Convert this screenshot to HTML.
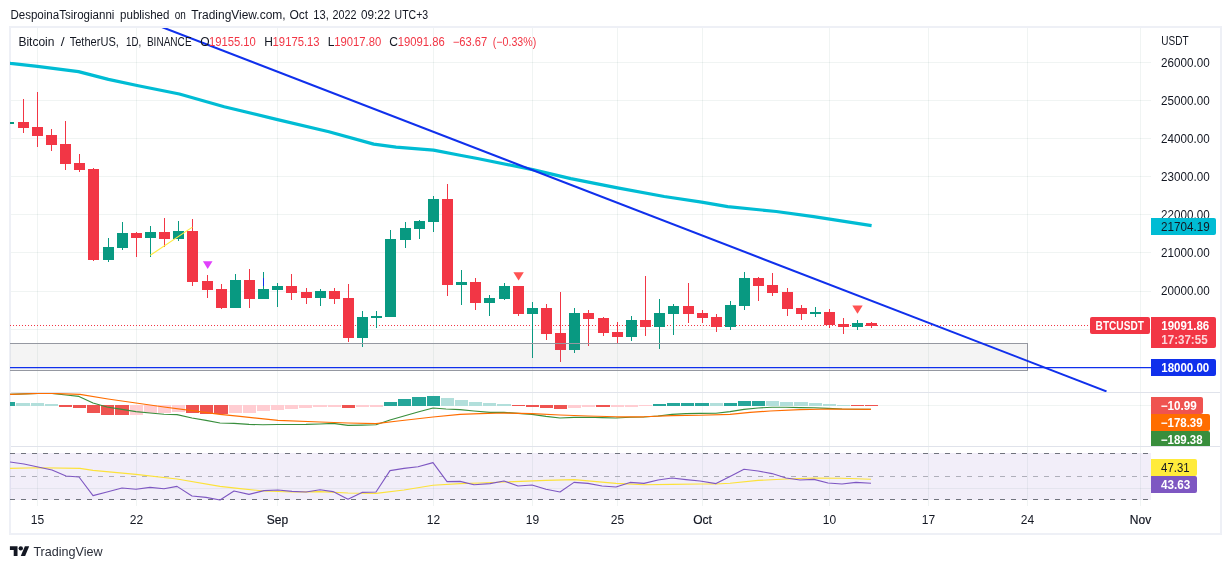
<!DOCTYPE html>
<html lang="en"><head><meta charset="utf-8"><title>BTCUSDT chart</title>
<style>html,body{margin:0;padding:0;background:#fff;}svg{display:block;will-change:transform;}</style></head>
<body>
<svg width="1231" height="569" viewBox="0 0 1231 569" font-family='"Liberation Sans", Arial, sans-serif' font-size="12">
<rect width="1231" height="569" fill="#fff"/>
<defs>
<clipPath id="cMain"><rect x="10" y="28" width="1141" height="364"/></clipPath>
<clipPath id="cMacd"><rect x="10" y="393" width="1141" height="53"/></clipPath>
<clipPath id="cRsi"><rect x="10" y="447" width="1141" height="59"/></clipPath>
<clipPath id="cAxis2"><rect x="1151" y="393" width="69" height="53"/></clipPath>
</defs>
<rect x="10" y="27" width="1211" height="507" fill="none" stroke="#eef0f6" stroke-width="2"/>
<g fill="#003c32" fill-opacity="0.06" shape-rendering="crispEdges"><rect x="37" y="28" width="1" height="478"/><rect x="136" y="28" width="1" height="478"/><rect x="277" y="28" width="1" height="478"/><rect x="433" y="28" width="1" height="478"/><rect x="532" y="28" width="1" height="478"/><rect x="617" y="28" width="1" height="478"/><rect x="702" y="28" width="1" height="478"/><rect x="829" y="28" width="1" height="478"/><rect x="928" y="28" width="1" height="478"/><rect x="1027" y="28" width="1" height="478"/><rect x="1140" y="28" width="1" height="478"/><rect x="11" y="62" width="1140" height="1"/><rect x="11" y="100" width="1140" height="1"/><rect x="11" y="138" width="1140" height="1"/><rect x="11" y="176" width="1140" height="1"/><rect x="11" y="214" width="1140" height="1"/><rect x="11" y="252" width="1140" height="1"/><rect x="11" y="291" width="1140" height="1"/><rect x="11" y="329" width="1140" height="1"/><rect x="11" y="367" width="1140" height="1"/><rect x="11" y="405" width="1140" height="1"/><rect x="11" y="488" width="1140" height="1"/></g>
<g fill="#e0e3eb" shape-rendering="crispEdges"><rect x="11" y="392" width="1209" height="1"/><rect x="11" y="446" width="1209" height="1"/></g>
<g clip-path="url(#cMain)">
<line x1="10" y1="325.5" x2="1090" y2="325.5" stroke="#f23645" stroke-width="1" stroke-dasharray="1 2" shape-rendering="crispEdges"/>
<polyline fill="none" stroke="#00bcd4" stroke-width="3.2" stroke-linejoin="round" stroke-linecap="butt" points="8,62.8 10.5,63.4 37.4,66.4 78.5,71.6 108.4,79.4 138.3,85.8 179.4,94 224.2,106.7 276.5,119.4 328.9,131.8 373.7,144.1 396.1,147.1 433.5,150.1 460,155.3 477.4,158.5 532.7,169.6 570.8,178.6 617.5,187.9 664.2,196.5 701.6,202.1 727.7,206.6 776.3,211.5 813.7,216.7 871.6,225.7"/>
<g fill="#089981" shape-rendering="crispEdges"><rect x="9" y="105" width="1" height="22"/><rect x="10" y="122" width="4" height="2"/><rect x="108" y="238" width="1" height="24"/><rect x="103" y="247" width="11" height="13"/><rect x="122" y="222" width="1" height="28"/><rect x="117" y="233" width="11" height="15"/><rect x="150" y="226" width="1" height="31"/><rect x="145" y="232" width="11" height="6"/><rect x="178" y="221" width="1" height="20"/><rect x="173" y="231" width="11" height="8"/><rect x="235" y="274" width="1" height="34"/><rect x="230" y="280" width="11" height="28"/><rect x="263" y="272" width="1" height="27"/><rect x="258" y="289" width="11" height="10"/><rect x="277" y="283" width="1" height="24"/><rect x="272" y="286" width="11" height="4"/><rect x="320" y="289" width="1" height="17"/><rect x="315" y="291" width="11" height="7"/><rect x="362" y="311" width="1" height="36"/><rect x="357" y="317" width="11" height="21"/><rect x="376" y="311" width="1" height="17"/><rect x="371" y="316" width="11" height="2"/><rect x="390" y="230" width="1" height="87"/><rect x="385" y="239" width="11" height="78"/><rect x="405" y="222" width="1" height="26"/><rect x="400" y="228" width="11" height="12"/><rect x="419" y="220" width="1" height="19"/><rect x="414" y="221" width="11" height="8"/><rect x="433" y="196" width="1" height="36"/><rect x="428" y="199" width="11" height="23"/><rect x="461" y="270" width="1" height="35"/><rect x="456" y="282" width="11" height="3"/><rect x="489" y="295" width="1" height="21"/><rect x="484" y="298" width="11" height="5"/><rect x="504" y="283" width="1" height="17"/><rect x="499" y="286" width="11" height="13"/><rect x="532" y="302" width="1" height="56"/><rect x="527" y="308" width="11" height="6"/><rect x="574" y="308" width="1" height="45"/><rect x="569" y="313" width="11" height="37"/><rect x="631" y="316" width="1" height="25"/><rect x="626" y="320" width="11" height="17"/><rect x="659" y="299" width="1" height="50"/><rect x="654" y="313" width="11" height="14"/><rect x="673" y="304" width="1" height="31"/><rect x="668" y="306" width="11" height="8"/><rect x="730" y="301" width="1" height="29"/><rect x="725" y="305" width="11" height="22"/><rect x="744" y="272" width="1" height="38"/><rect x="739" y="278" width="11" height="28"/><rect x="815" y="307" width="1" height="10"/><rect x="810" y="312" width="11" height="2"/><rect x="857" y="320" width="1" height="10"/><rect x="852" y="323" width="11" height="4"/></g>
<g fill="#f23645" shape-rendering="crispEdges"><rect x="23" y="99" width="1" height="34"/><rect x="18" y="122" width="11" height="6"/><rect x="37" y="92" width="1" height="55"/><rect x="32" y="127" width="11" height="9"/><rect x="51" y="129" width="1" height="22"/><rect x="46" y="135" width="11" height="10"/><rect x="65" y="121" width="1" height="49"/><rect x="60" y="144" width="11" height="20"/><rect x="79" y="154" width="1" height="18"/><rect x="74" y="163" width="11" height="7"/><rect x="93" y="168" width="1" height="93"/><rect x="88" y="169" width="11" height="91"/><rect x="136" y="232" width="1" height="25"/><rect x="131" y="233" width="11" height="5"/><rect x="164" y="218" width="1" height="29"/><rect x="159" y="232" width="11" height="7"/><rect x="192" y="219" width="1" height="67"/><rect x="187" y="231" width="11" height="51"/><rect x="207" y="275" width="1" height="23"/><rect x="202" y="281" width="11" height="9"/><rect x="221" y="284" width="1" height="25"/><rect x="216" y="289" width="11" height="19"/><rect x="249" y="269" width="1" height="39"/><rect x="244" y="280" width="11" height="19"/><rect x="291" y="274" width="1" height="26"/><rect x="286" y="286" width="11" height="7"/><rect x="306" y="288" width="1" height="16"/><rect x="301" y="292" width="11" height="6"/><rect x="334" y="288" width="1" height="16"/><rect x="329" y="291" width="11" height="8"/><rect x="348" y="284" width="1" height="58"/><rect x="343" y="298" width="11" height="40"/><rect x="447" y="184" width="1" height="112"/><rect x="442" y="199" width="11" height="86"/><rect x="475" y="278" width="1" height="32"/><rect x="470" y="282" width="11" height="21"/><rect x="518" y="286" width="1" height="30"/><rect x="513" y="286" width="11" height="28"/><rect x="546" y="304" width="1" height="36"/><rect x="541" y="308" width="11" height="26"/><rect x="560" y="292" width="1" height="70"/><rect x="555" y="333" width="11" height="17"/><rect x="588" y="310" width="1" height="36"/><rect x="583" y="313" width="11" height="6"/><rect x="603" y="317" width="1" height="19"/><rect x="598" y="318" width="11" height="15"/><rect x="617" y="322" width="1" height="21"/><rect x="612" y="332" width="11" height="5"/><rect x="645" y="276" width="1" height="60"/><rect x="640" y="320" width="11" height="7"/><rect x="688" y="283" width="1" height="40"/><rect x="683" y="306" width="11" height="8"/><rect x="702" y="310" width="1" height="13"/><rect x="697" y="313" width="11" height="5"/><rect x="716" y="314" width="1" height="18"/><rect x="711" y="317" width="11" height="10"/><rect x="758" y="277" width="1" height="24"/><rect x="753" y="278" width="11" height="8"/><rect x="772" y="273" width="1" height="23"/><rect x="767" y="285" width="11" height="8"/><rect x="787" y="288" width="1" height="28"/><rect x="782" y="292" width="11" height="17"/><rect x="801" y="305" width="1" height="15"/><rect x="796" y="308" width="11" height="6"/><rect x="829" y="309" width="1" height="19"/><rect x="824" y="312" width="11" height="13"/><rect x="843" y="318" width="1" height="16"/><rect x="838" y="324" width="11" height="3"/><rect x="871" y="322" width="1" height="6"/><rect x="866" y="323" width="11" height="3"/></g>
<rect x="-5.5" y="343.5" width="1033" height="27" fill="#808080" fill-opacity="0.085" stroke="#9598a1" stroke-width="1"/>
<line x1="10" y1="367.5" x2="1151" y2="367.5" stroke="#1030ec" stroke-width="1.25"/>
<rect x="263" y="278" width="1" height="8" fill="#1030ec" shape-rendering="crispEdges"/>
<line x1="150.3" y1="255.2" x2="192.4" y2="227.1" stroke="#ffeb3b" stroke-width="1.05"/>
<line x1="150" y1="22.5" x2="1106.5" y2="391.4" stroke="#1030ec" stroke-width="2.05"/>
<path d="M202.89999999999998,261.3 h9.6 l-4.8,7.8 z" fill="#e040fb"/>
<path d="M513.4,272.3 h10.4 l-5.2,8.2 z" fill="#ff5252"/>
<path d="M852.3,305.6 h10.4 l-5.2,8.2 z" fill="#ff5252"/>
</g>
<g clip-path="url(#cMacd)">
<g fill="#26a69a" shape-rendering="crispEdges"><rect x="2" y="402" width="13" height="4"/><rect x="384" y="402" width="13" height="4"/><rect x="398" y="399" width="13" height="7"/><rect x="412" y="397" width="14" height="9"/><rect x="427" y="396" width="13" height="10"/><rect x="653" y="404" width="13" height="2"/><rect x="667" y="403" width="13" height="3"/><rect x="681" y="403" width="13" height="3"/><rect x="695" y="403" width="14" height="3"/><rect x="724" y="403" width="13" height="3"/><rect x="738" y="401" width="13" height="5"/><rect x="752" y="401" width="13" height="5"/></g>
<g fill="#b2dfdb" shape-rendering="crispEdges"><rect x="16" y="403" width="14" height="3"/><rect x="31" y="403" width="13" height="3"/><rect x="45" y="404" width="13" height="2"/><rect x="441" y="398" width="13" height="8"/><rect x="455" y="400" width="13" height="6"/><rect x="469" y="402" width="13" height="4"/><rect x="483" y="403" width="13" height="3"/><rect x="497" y="404" width="14" height="2"/><rect x="710" y="403" width="13" height="3"/><rect x="766" y="401" width="13" height="5"/><rect x="780" y="402" width="13" height="4"/><rect x="794" y="402" width="14" height="4"/><rect x="809" y="403" width="13" height="3"/><rect x="823" y="404" width="13" height="2"/><rect x="837" y="405" width="13" height="1"/></g>
<g fill="#ef5350" shape-rendering="crispEdges"><rect x="59" y="405" width="13" height="2"/><rect x="73" y="405" width="13" height="3"/><rect x="87" y="405" width="13" height="8"/><rect x="101" y="405" width="13" height="10"/><rect x="115" y="405" width="14" height="10"/><rect x="186" y="405" width="13" height="8"/><rect x="200" y="405" width="13" height="9"/><rect x="214" y="405" width="14" height="9"/><rect x="342" y="405" width="13" height="3"/><rect x="512" y="405" width="13" height="1"/><rect x="526" y="405" width="13" height="2"/><rect x="540" y="405" width="13" height="3"/><rect x="554" y="405" width="13" height="4"/><rect x="596" y="405" width="14" height="2"/><rect x="851" y="405" width="13" height="1"/><rect x="865" y="405" width="13" height="1"/></g>
<g fill="#ffcdd2" shape-rendering="crispEdges"><rect x="130" y="405" width="13" height="10"/><rect x="144" y="405" width="13" height="8"/><rect x="158" y="405" width="13" height="8"/><rect x="172" y="405" width="13" height="7"/><rect x="229" y="405" width="13" height="8"/><rect x="243" y="405" width="13" height="8"/><rect x="257" y="405" width="13" height="6"/><rect x="271" y="405" width="13" height="5"/><rect x="285" y="405" width="13" height="4"/><rect x="299" y="405" width="13" height="3"/><rect x="313" y="405" width="14" height="2"/><rect x="328" y="405" width="13" height="2"/><rect x="356" y="405" width="13" height="2"/><rect x="370" y="405" width="13" height="2"/><rect x="568" y="405" width="13" height="3"/><rect x="582" y="405" width="13" height="2"/><rect x="611" y="405" width="13" height="2"/><rect x="625" y="405" width="13" height="2"/><rect x="639" y="405" width="13" height="1"/></g>
<polyline fill="none" stroke="#388e3c" stroke-width="1.15" stroke-linejoin="round" points="8,394.5 10,394.4 38,393.4 52,393.4 66,395 79,396.4 93,403 107,407 122,409.4 136,411.6 150,413 164,414.2 177,414.6 192,418 206,420.4 220,423 234,423.4 249,424.4 263,424.7 278,424.5 306,424.4 320,424 333,423.4 348,425.4 362,425.1 376,424.8 390,420 404,416 418,412 433,408 446,409 460,409.6 474,411 490,412.4 504,412.4 518,413.4 532,414.4 546,416.4 560,418 574,417.4 588,417.2 602,417.6 616,418 630,417.2 644,417 658,416 672,414.4 686,413.6 700,413.4 716,413.2 730,411.6 744,409.4 758,408 772,407.2 786,407.2 800,407.6 814,407.8 828,408.4 842,409 856,409.2 871,409.4"/>
<polyline fill="none" stroke="#ff6d00" stroke-width="1.15" stroke-linejoin="round" points="8,394.5 10,394.4 38,393.4 52,393.4 80,394.4 108,399 136,403 164,407 192,410.6 220,414.4 240,416.4 278,420.4 320,422 348,423 376,423.6 398,421 433,417 460,414.4 480,413.6 504,413 532,413.6 560,415 588,416 616,416.8 644,416.8 672,415.6 700,415.2 730,414.4 750,412.4 770,411 800,409.6 830,409 871,409.4"/>
</g>
<g clip-path="url(#cRsi)">
<rect x="10" y="453" width="1141" height="47" fill="#7e57c2" fill-opacity="0.1"/>
<line x1="10" y1="453.5" x2="1151" y2="453.5" stroke="#70737d" stroke-width="1.2" stroke-dasharray="5 6"/>
<line x1="10" y1="499.5" x2="1151" y2="499.5" stroke="#70737d" stroke-width="1.2" stroke-dasharray="5 6"/>
<line x1="10" y1="476.5" x2="1151" y2="476.5" stroke="#787b86" stroke-opacity="0.55" stroke-width="1" stroke-dasharray="5 6"/>
<polyline fill="none" stroke="#fce23a" stroke-width="1.1" stroke-linejoin="round" points="8,468.4 10,468.4 38,467.8 80,468.4 93,470.4 136,474.4 177,479 220,486.4 240,488.6 264,491 292,492 320,491.6 348,493 376,493.4 404,490 433,485.2 460,483.6 480,483 504,482 546,480.4 574,479.6 616,483.4 644,484.8 672,484.4 700,484 716,484 730,483.2 758,480.4 786,479 814,478 842,478.2 871,479.2"/>
<polyline fill="none" stroke="#7e57c2" stroke-width="1.1" stroke-linejoin="round" points="8,461.8 10,462 24,464 38,467 52,470 66,476 79,477 93,495.6 107,492 122,488 136,489.2 150,487.4 164,488.8 177,486.4 192,496 206,497.4 220,500 234,491 249,494.4 264,490.6 278,490 292,491.4 306,492 320,489.8 333,491.6 348,499.2 362,492.4 376,492 390,470.6 404,468.4 418,466.8 433,462.6 447,481.6 460,481.4 474,484.8 490,483.6 504,481 518,486 532,485 546,489.2 560,492 574,482.4 588,483.4 602,486 616,487 630,482.4 644,483.4 658,480 672,478 686,479.6 700,481 716,483.6 730,476.4 744,469.2 758,471 772,473.6 786,478 800,480 814,479.4 828,483 842,484 856,482.4 871,483.2"/>
</g>
<text y="18.8" fill="#131722" xml:space="preserve"><tspan x="10.4" textLength="104.0" lengthAdjust="spacingAndGlyphs">DespoinaTsirogianni</tspan><tspan x="120.1" textLength="49.3" lengthAdjust="spacingAndGlyphs">published</tspan><tspan x="174.8" textLength="11.1" lengthAdjust="spacingAndGlyphs">on</tspan><tspan x="191.2" textLength="94.4" lengthAdjust="spacingAndGlyphs">TradingView.com,</tspan><tspan x="289.4" textLength="18.7" lengthAdjust="spacingAndGlyphs">Oct</tspan><tspan x="313.3" textLength="15.5" lengthAdjust="spacingAndGlyphs">13,</tspan><tspan x="332.4" textLength="24.0" lengthAdjust="spacingAndGlyphs">2022</tspan><tspan x="361.0" textLength="29.3" lengthAdjust="spacingAndGlyphs">09:22</tspan><tspan x="394.6" textLength="33.6" lengthAdjust="spacingAndGlyphs">UTC+3</tspan></text>
<text y="46" fill="#131722"><tspan x="18.4" textLength="36.1" lengthAdjust="spacingAndGlyphs">Bitcoin</tspan><tspan x="60.8" textLength="3.9" lengthAdjust="spacingAndGlyphs">/</tspan><tspan x="69.7" textLength="49.2" lengthAdjust="spacingAndGlyphs">TetherUS,</tspan><tspan x="126.0" textLength="15.2" lengthAdjust="spacingAndGlyphs">1D,</tspan><tspan x="146.9" textLength="44.7" lengthAdjust="spacingAndGlyphs">BINANCE</tspan></text>
<text x="200.2" y="46" fill="#131722">O</text>
<text x="208.9" y="46" fill="#f23645" textLength="47" lengthAdjust="spacingAndGlyphs">19155.10</text>
<text x="264.2" y="46" fill="#131722">H</text>
<text x="272.6" y="46" fill="#f23645" textLength="47" lengthAdjust="spacingAndGlyphs">19175.13</text>
<text x="327.7" y="46" fill="#131722">L</text>
<text x="334.3" y="46" fill="#f23645" textLength="47" lengthAdjust="spacingAndGlyphs">19017.80</text>
<text x="389.2" y="46" fill="#131722">C</text>
<text x="397.7" y="46" fill="#f23645" textLength="47" lengthAdjust="spacingAndGlyphs">19091.86</text>
<text x="452.8" y="46" fill="#f23645" textLength="34.5" lengthAdjust="spacingAndGlyphs">−63.67</text>
<text x="492.8" y="46" fill="#f23645" textLength="43.5" lengthAdjust="spacingAndGlyphs">(−0.33%)</text>
<text x="1161.3" y="45" fill="#131722" textLength="27.3" lengthAdjust="spacingAndGlyphs">USDT</text>
<text x="1161.1" y="66.6" fill="#131722" textLength="48.6" lengthAdjust="spacingAndGlyphs">26000.00</text>
<text x="1161.1" y="104.7" fill="#131722" textLength="48.6" lengthAdjust="spacingAndGlyphs">25000.00</text>
<text x="1161.1" y="142.7" fill="#131722" textLength="48.6" lengthAdjust="spacingAndGlyphs">24000.00</text>
<text x="1161.1" y="180.8" fill="#131722" textLength="48.6" lengthAdjust="spacingAndGlyphs">23000.00</text>
<text x="1161.1" y="218.8" fill="#131722" textLength="48.6" lengthAdjust="spacingAndGlyphs">22000.00</text>
<text x="1161.1" y="256.9" fill="#131722" textLength="48.6" lengthAdjust="spacingAndGlyphs">21000.00</text>
<text x="1161.1" y="294.9" fill="#131722" textLength="48.6" lengthAdjust="spacingAndGlyphs">20000.00</text>
<path d="M1151,218 h63 a2,2 0 0 1 2,2 v13 a2,2 0 0 1 -2,2 h-63 z" fill="#00bcd4"/>
<text x="1161.1" y="231" fill="#131722" textLength="48.6" lengthAdjust="spacingAndGlyphs">21704.19</text>
<rect x="1090" y="317" width="60" height="17" rx="2" fill="#f23645"/>
<text x="1095.6" y="329.7" fill="#fff" font-weight="bold" textLength="48.3" lengthAdjust="spacingAndGlyphs">BTCUSDT</text>
<path d="M1151,317 h63 a2,2 0 0 1 2,2 v27 a2,2 0 0 1 -2,2 h-63 z" fill="#f23645"/>
<text x="1161.3" y="329.7" fill="#fff" font-weight="bold" textLength="47.9" lengthAdjust="spacingAndGlyphs">19091.86</text>
<text x="1161.3" y="343.7" fill="#fff" fill-opacity="0.8" font-weight="bold" textLength="46.3" lengthAdjust="spacingAndGlyphs">17:37:55</text>
<path d="M1151,359 h63 a2,2 0 0 1 2,2 v13 a2,2 0 0 1 -2,2 h-63 z" fill="#1030ec"/>
<text x="1161.3" y="371.7" fill="#fff" font-weight="bold" textLength="47.9" lengthAdjust="spacingAndGlyphs">18000.00</text>
<g clip-path="url(#cAxis2)">
<path d="M1151,397 h50 a2,2 0 0 1 2,2 v13 a2,2 0 0 1 -2,2 h-50 z" fill="#ef5350"/>
<text x="1160.8" y="409.7" fill="#fff" font-weight="bold" textLength="36" lengthAdjust="spacingAndGlyphs">−10.99</text>
<path d="M1151,414 h57 a2,2 0 0 1 2,2 v13 a2,2 0 0 1 -2,2 h-57 z" fill="#ff6d00"/>
<text x="1160.8" y="426.7" fill="#fff" font-weight="bold" textLength="41.8" lengthAdjust="spacingAndGlyphs">−178.39</text>
<path d="M1151,431 h57 a2,2 0 0 1 2,2 v13 a2,2 0 0 1 -2,2 h-57 z" fill="#388e3c"/>
<text x="1160.8" y="443.7" fill="#fff" font-weight="bold" textLength="41.8" lengthAdjust="spacingAndGlyphs">−189.38</text>
</g>
<path d="M1151,459 h44 a2,2 0 0 1 2,2 v13 a2,2 0 0 1 -2,2 h-44 z" fill="#ffeb3b"/>
<text x="1161.1" y="471.7" fill="#131722" textLength="28.5" lengthAdjust="spacingAndGlyphs">47.31</text>
<path d="M1151,476 h44 a2,2 0 0 1 2,2 v13 a2,2 0 0 1 -2,2 h-44 z" fill="#7e57c2"/>
<text x="1160.9" y="488.7" fill="#fff" font-weight="bold" textLength="29.3" lengthAdjust="spacingAndGlyphs">43.63</text>
<text x="37.5" y="523.8" fill="#131722" text-anchor="middle">15</text>
<text x="136.5" y="523.8" fill="#131722" text-anchor="middle">22</text>
<text x="277.5" y="523.8" fill="#131722" text-anchor="middle" stroke="#131722" stroke-width="0.2">Sep</text>
<text x="433.5" y="523.8" fill="#131722" text-anchor="middle">12</text>
<text x="532.5" y="523.8" fill="#131722" text-anchor="middle">19</text>
<text x="617.5" y="523.8" fill="#131722" text-anchor="middle">25</text>
<text x="702.5" y="523.8" fill="#131722" text-anchor="middle" stroke="#131722" stroke-width="0.2">Oct</text>
<text x="829.5" y="523.8" fill="#131722" text-anchor="middle">10</text>
<text x="928.5" y="523.8" fill="#131722" text-anchor="middle">17</text>
<text x="1027.5" y="523.8" fill="#131722" text-anchor="middle">24</text>
<text x="1140.5" y="523.8" fill="#131722" text-anchor="middle" stroke="#131722" stroke-width="0.2">Nov</text>
<g transform="translate(9.9,544) scale(0.544)" fill="#131722"><path d="M14 22H7V11H0V4h14v18z"/><circle cx="20" cy="8" r="4"/><path d="M28 22h-8l7.5-18h8L28 22z"/></g>
<text x="33.4" y="555.7" fill="#2a2e39" font-size="13.5" textLength="69.3" lengthAdjust="spacingAndGlyphs">TradingView</text>
</svg>
</body></html>
